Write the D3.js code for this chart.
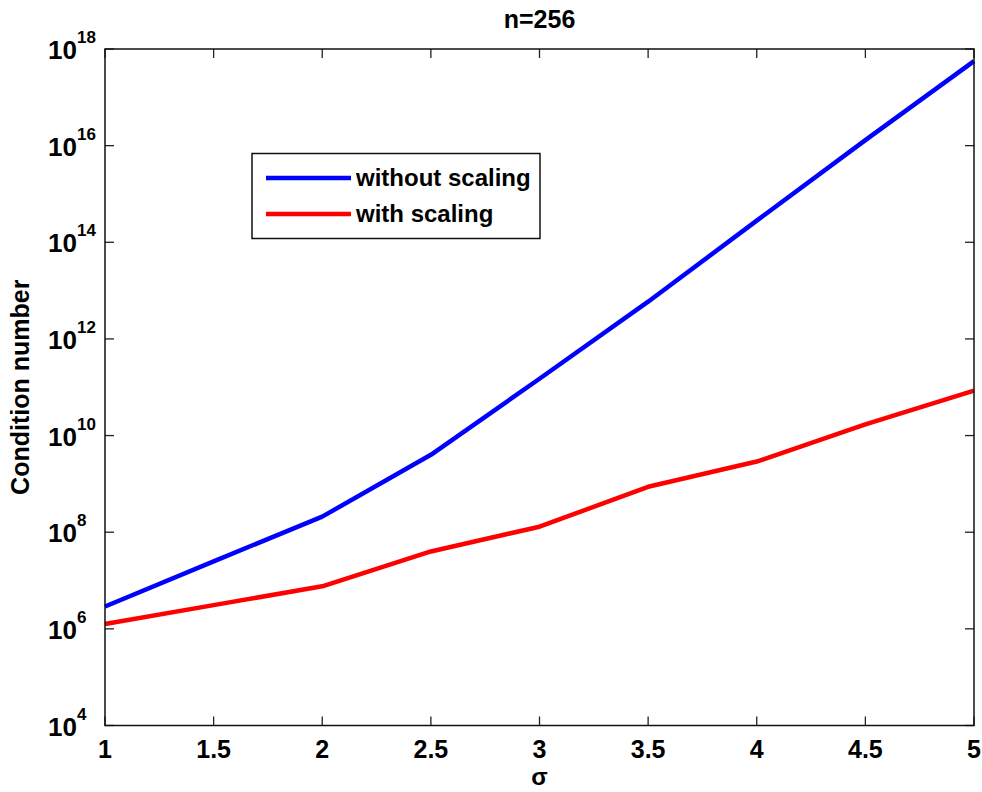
<!DOCTYPE html>
<html>
<head>
<meta charset="utf-8">
<script src="https://cdn.jsdelivr.net/npm/d3@7"></script>
<style>
  body { margin: 0; background: #fff; }
  svg { display: block; font-family: "Liberation Sans", Arial, sans-serif; font-weight: bold; }
</style>
</head>
<body>
<div id="chart"></div>
<script>
// sigma values on the x axis
const sigma = [1, 1.5, 2, 2.5, 3, 3.5, 4, 4.5, 5];
// condition numbers
const withoutScaling = [2.9e6, 2.5e7, 2.1e8, 4.0e9, 1.5e11, 5.9e12, 2.8e14, 1.3e16, 5.6e17];
const withScaling = [1.26e6, 3.1e6, 7.6e6, 4.0e7, 1.3e8, 8.7e8, 2.9e9, 1.7e10, 8.5e10];
const xTicks = [1, 1.5, 2, 2.5, 3, 3.5, 4, 4.5, 5];
const yExponents = [4, 6, 8, 10, 12, 14, 16, 18];
const seriesNames = ['without scaling', 'with scaling'];

const width = 982, height = 792;
const margin = { top: 49, right: 8, bottom: 66.5, left: 105 };

const svg = d3.select('#chart').append('svg')
    .attr('width', width)
    .attr('height', height);

const x = d3.scaleLinear()
    .domain([1, 5])
    .range([margin.left, width - margin.right]);

const y = d3.scaleLog()
    .domain([1e4, 1e18])
    .range([height - margin.bottom, margin.top]);

const x0 = x.range()[0], x1 = x.range()[1];
const y0 = y.range()[0], y1 = y.range()[1];
const tickLen = 9;

// ticks, inward, on all four sides
const tickG = svg.append('g').attr('stroke', '#222').attr('stroke-width', 1.3);
xTicks.forEach(v => {
    tickG.append('line').attr('x1', x(v)).attr('x2', x(v)).attr('y1', y0).attr('y2', y0 - tickLen);
    tickG.append('line').attr('x1', x(v)).attr('x2', x(v)).attr('y1', y1).attr('y2', y1 + tickLen);
});
yExponents.forEach(e => {
    const yy = y(Math.pow(10, e));
    tickG.append('line').attr('x1', x0).attr('x2', x0 + tickLen).attr('y1', yy).attr('y2', yy);
    tickG.append('line').attr('x1', x1).attr('x2', x1 - tickLen).attr('y1', yy).attr('y2', yy);
});

// lines
const line = d3.line()
    .x((d, i) => x(sigma[i]))
    .y(d => y(d));

svg.append('path')
    .datum(withoutScaling)
    .attr('d', line)
    .attr('fill', 'none')
    .attr('stroke', '#0000ff')
    .attr('stroke-width', 4.5)
    .attr('stroke-linejoin', 'round');

svg.append('path')
    .datum(withScaling)
    .attr('d', line)
    .attr('fill', 'none')
    .attr('stroke', '#ff0000')
    .attr('stroke-width', 4.5)
    .attr('stroke-linejoin', 'round');

// axes box
svg.append('rect')
    .attr('x', x0).attr('y', y1)
    .attr('width', x1 - x0).attr('height', y0 - y1)
    .attr('fill', 'none')
    .attr('stroke', '#111')
    .attr('stroke-width', 1.5);

// x tick labels
svg.append('g').selectAll('text')
    .data(xTicks)
    .enter().append('text')
    .attr('x', d => x(d))
    .attr('y', y0 + 32)
    .attr('text-anchor', 'middle')
    .attr('font-size', 25)
    .text(d => d);

// y tick labels as 10^n
const yLab = svg.append('g').selectAll('text')
    .data(yExponents)
    .enter().append('text')
    .attr('x', 48)
    .attr('y', d => y(Math.pow(10, d)) + 10)
    .attr('font-size', 26);
yLab.append('tspan').text('10');
yLab.append('tspan')
    .attr('dy', -16)
    .attr('font-size', 17)
    .text(d => d);

// title and axis labels
svg.append('text')
    .attr('x', (x0 + x1) / 2)
    .attr('y', 28)
    .attr('text-anchor', 'middle')
    .attr('font-size', 25)
    .text('n=256');

svg.append('text')
    .attr('x', (x0 + x1) / 2)
    .attr('y', 785)
    .attr('text-anchor', 'middle')
    .attr('font-size', 24)
    .text('σ');

svg.append('text')
    .attr('transform', `translate(29,${(y0 + y1) / 2}) rotate(-90)`)
    .attr('text-anchor', 'middle')
    .attr('font-size', 25)
    .text('Condition number');

// legend
const legend = svg.append('g');
legend.append('rect')
    .attr('x', 252).attr('y', 153.5)
    .attr('width', 288).attr('height', 85)
    .attr('fill', '#fff')
    .attr('stroke', '#111')
    .attr('stroke-width', 1.5);

const legendColors = ['#0000ff', '#ff0000'];
seriesNames.forEach((name, i) => {
    const ly = 178 + i * 36;
    legend.append('line')
        .attr('x1', 266).attr('x2', 351)
        .attr('y1', ly).attr('y2', ly)
        .attr('stroke', legendColors[i])
        .attr('stroke-width', 4.5);
    legend.append('text')
        .attr('x', 356)
        .attr('y', ly + 8)
        .attr('font-size', 24)
        .text(name);
});
</script>
</body>
</html>
